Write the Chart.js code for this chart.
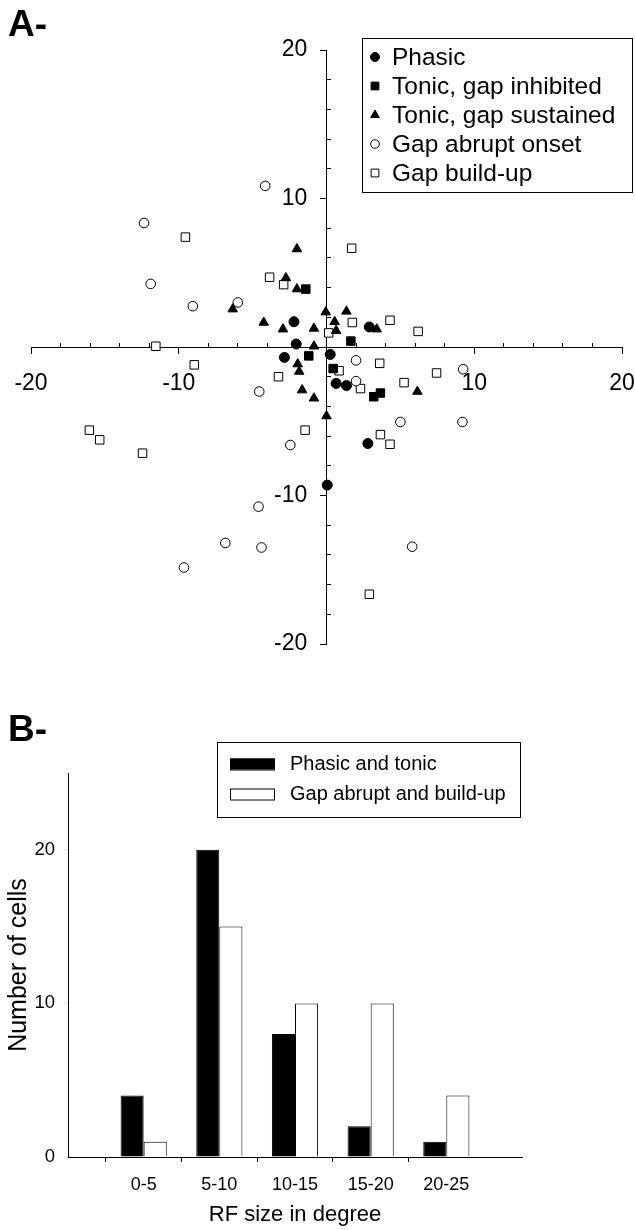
<!DOCTYPE html>
<html>
<head>
<meta charset="utf-8">
<script src="https://cdn.jsdelivr.net/npm/chart.js@4.4.1/dist/chart.umd.min.js"></script>
<style>
  html, body { margin: 0; padding: 0; background: #fff; overflow: hidden; }
  body { width: 635px; height: 1230px; position: relative; font-family: "Liberation Sans", Arial, sans-serif; }
  .panel-label { position: absolute; left: 8px; font-weight: bold; font-size: 37px; line-height: 37px; color: #000; z-index: 2; }
  #boxA { position: absolute; left: 0; top: 0; width: 635px; height: 680px; }
  #boxB { position: absolute; left: 0; top: 680px; width: 635px; height: 550px; }
</style>
</head>
<body>
<div id="boxA"><canvas id="rfMapChart"></canvas></div>
<div id="boxB"><canvas id="rfSizeChart"></canvas></div>
<div class="panel-label" style="top:5px">A-</div>
<div class="panel-label" style="top:710px">B-</div>
<script>
// Panel A: receptive field centres (deg), one list of [x, y] per cell class
const phasic = [[-2.2, 1.7], [2.9, 1.35], [-2.05, 0.2], [-2.85, -0.7], [0.25, -0.5],
  [0.65, -2.45], [1.35, -2.6], [2.8, -6.5], [0.05, -9.3]];
const tonicGapInhibited = [[-1.4, 3.9], [1.65, 0.4], [-1.2, -0.6], [0.45, -1.45],
  [3.2, -3.35], [3.65, -3.1]];
const tonicGapSustained = [[-2.0, 6.6], [-2.75, 4.65], [-2.0, 3.9], [-6.35, 2.55],
  [-4.25, 1.65], [-2.95, 1.2], [-0.85, 1.25], [-0.05, 2.35], [1.35, 2.4], [0.55, 1.7],
  [0.65, 1.1], [3.4, 1.2], [-0.85, 0.05], [-1.95, -1.15], [-1.85, -1.65], [-1.65, -2.9],
  [-0.85, -3.45], [6.15, -3.0], [0.0, -4.65]];
const gapAbruptOnset = [[-4.15, 10.85], [-12.35, 8.35], [-11.9, 4.25], [-9.05, 2.75],
  [-6.0, 3.0], [2.0, -0.9], [2.0, -2.3], [-4.55, -3.0], [9.25, -1.5], [9.2, -5.05],
  [5.0, -5.05], [-2.45, -6.6], [-4.6, -10.75], [-6.85, -13.2], [-4.4, -13.5],
  [-9.65, -14.85], [5.8, -13.45]];
const gapBuildUp = [[-9.55, 7.4], [-3.85, 4.7], [-2.9, 4.2], [1.7, 6.65], [1.75, 1.65],
  [0.15, 0.95], [4.3, 1.8], [6.2, 1.05], [-11.55, 0.05], [-8.95, -1.2], [0.85, -1.6],
  [3.6, -1.1], [7.45, -1.75], [-3.25, -2.0], [2.3, -2.8], [5.25, -2.4], [-1.45, -5.6],
  [3.65, -5.9], [4.3, -6.55], [-16.05, -5.6], [-15.35, -6.25], [-12.45, -7.15], [2.9, -16.65]];
const mapTickLabels = [-20, -10, 10, 20];

// Panel B: RF size histogram
const sizeBins = ["0-5", "5-10", "10-15", "15-20", "20-25"];
const phasicAndTonic = [4, 20, 8, 2, 1];
const gapAbruptAndBuildUp = [1, 15, 10, 10, 4];
const countTicks = [0, 10, 20];

const FONT = '"Liberation Sans", Arial, sans-serif';
Chart.defaults.font.family = FONT;
Chart.defaults.color = "#000";

const clear = "rgba(0,0,0,0)";

// --- Panel A ---
function series(label, pts, style, filled, radius) {
  return {
    label: label,
    data: pts.map(([x, y]) => ({ x: x, y: y })),
    pointStyle: style,
    pointRadius: radius,
    pointHoverRadius: radius,
    pointBackgroundColor: filled ? "#000" : "#fff",
    pointBorderColor: "#000",
    pointBorderWidth: 1,
    showLine: false,
  };
}

// centred axes should not push the plot area in
const noPadding = (s) => {
  s.paddingLeft = 0;
  s.paddingRight = 0;
  s.paddingTop = 0;
  s.paddingBottom = 0;
};

const legendBoxA = {
  id: "legendBoxA",
  afterDraw(chart) {
    const ctx = chart.ctx;
    ctx.save();
    ctx.fillStyle = "#fff";
    ctx.fillRect(362.5, 38.5, 270, 154);
    ctx.strokeStyle = "#000";
    ctx.lineWidth = 1;
    ctx.strokeRect(362.5, 38.5, 270, 154);
    ctx.font = "24.5px " + FONT;
    ctx.textBaseline = "middle";
    chart.data.datasets.forEach((ds, i) => {
      const y = 57 + i * 29;
      ctx.fillStyle = ds.pointBackgroundColor;
      ctx.strokeStyle = "#000";
      ctx.lineWidth = 1;
      Chart.helpers.drawPoint(ctx, { pointStyle: ds.pointStyle, radius: ds.pointRadius - 0.5, rotation: 0, borderWidth: 1 }, 375, y);
      ctx.fillStyle = "#000";
      ctx.fillText(ds.label, 392, y + 1);
    });
    ctx.restore();
  },
};

const axisFontA = { family: FONT, size: 23 };

new Chart(document.getElementById("rfMapChart").getContext("2d"), {
  type: "scatter",
  data: {
    datasets: [
      series("Phasic", phasic, "circle", true, 5),
      series("Tonic, gap inhibited", tonicGapInhibited, "rect", true, 6),
      series("Tonic, gap sustained", tonicGapSustained, "triangle", true, 5.5),
      series("Gap abrupt onset", gapAbruptOnset, "circle", false, 4.8),
      series("Gap build-up", gapBuildUp, "rect", false, 6),
    ],
  },
  options: {
    responsive: true,
    maintainAspectRatio: false,
    animation: false,
    events: [],
    layout: { padding: { left: 31, right: 13, top: 50, bottom: 36 } },
    plugins: { legend: { display: false }, tooltip: { enabled: false } },
    scales: {
      x: {
        type: "linear", min: -20, max: 20, position: { y: 0 },
        border: { color: "#000", width: 1 },
        grid: { drawOnChartArea: false, tickLength: 6, tickColor: (c) => (c.tick && c.tick.value === 0 ? clear : "#000") },
        ticks: { stepSize: 10, autoSkip: false, maxRotation: 0, font: axisFontA, padding: 17,
          callback: (v) => (mapTickLabels.includes(v) ? String(v) : "") },
        afterFit: noPadding,
      },
      y: {
        type: "linear", min: -20, max: 20, position: { x: 0 },
        border: { color: "#000", width: 1 },
        grid: { drawOnChartArea: false, tickLength: 6, tickColor: (c) => (c.tick && c.tick.value === 0 ? clear : "#000") },
        // trailing spaces keep the labels clear of the centred axis
        ticks: { stepSize: 10, autoSkip: false, font: axisFontA, padding: 14,
          callback: (v) => (mapTickLabels.includes(v) ? String(v) + "   " : "") },
        afterFit: noPadding,
      },
      // minor ticks every 2 deg, on the other side of the axis
      x2: {
        type: "linear", axis: "x", min: -20, max: 20, position: { y: 0 },
        border: { display: false },
        grid: { drawOnChartArea: false, tickLength: -4, tickColor: (c) => (c.tick && c.tick.value % 10 === 0 ? clear : "#000") },
        ticks: { stepSize: 2, display: false },
        afterFit: noPadding,
      },
      y2: {
        type: "linear", axis: "y", min: -20, max: 20, position: { x: 0 },
        border: { display: false },
        grid: { drawOnChartArea: false, tickLength: -4, tickColor: (c) => (c.tick && c.tick.value % 10 === 0 ? clear : "#000") },
        ticks: { stepSize: 2, display: false },
        afterFit: noPadding,
      },
    },
  },
  plugins: [legendBoxA],
});

// --- Panel B ---
const binLabels = ["", ...sizeBins, ""];

const legendBoxB = {
  id: "legendBoxB",
  afterDraw(chart) {
    const ctx = chart.ctx;
    ctx.save();
    ctx.strokeStyle = "#000";
    ctx.lineWidth = 1;
    ctx.strokeRect(217.5, 62.5, 303, 75);
    ctx.font = "20px " + FONT;
    ctx.textBaseline = "middle";
    chart.data.datasets.forEach((ds, i) => {
      const y = 84 + i * 30;
      ctx.fillStyle = ds.backgroundColor;
      ctx.fillRect(230, y - 5.5, 45, 11);
      ctx.strokeRect(230.5, y - 5, 44, 11);
      ctx.fillStyle = "#000";
      ctx.fillText(ds.label, 290, y);
    });
    ctx.restore();
  },
};

new Chart(document.getElementById("rfSizeChart").getContext("2d"), {
  type: "bar",
  data: {
    labels: binLabels,
    datasets: [
      { label: "Phasic and tonic", data: [null, ...phasicAndTonic, null],
        backgroundColor: "#000", borderColor: "#000", borderWidth: 1 },
      { label: "Gap abrupt and build-up", data: [null, ...gapAbruptAndBuildUp, null],
        backgroundColor: "#fff", borderColor: "#000", borderWidth: 1 },
    ],
  },
  options: {
    responsive: true,
    maintainAspectRatio: false,
    animation: false,
    events: [],
    layout: { padding: { left: 0, right: 113, top: 93, bottom: 0 } },
    datasets: { bar: { categoryPercentage: 0.61, barPercentage: 1.0 } },
    plugins: { legend: { display: false }, tooltip: { enabled: false } },
    scales: {
      x: {
        type: "category", offset: false,
        border: { color: "#000", width: 1 },
        grid: { drawOnChartArea: false, tickLength: 5,
          tickColor: (c) => (c.index === 0 || c.index === binLabels.length - 1 ? clear : "#000") },
        ticks: { autoSkip: false, maxRotation: 0, font: { size: 18 }, padding: 12 },
        title: { display: true, text: "RF size in degree", font: { size: 22 }, padding: { top: 2, bottom: 2 } },
        afterFit: (s) => { s.height = 73; },
      },
      y: {
        min: 0, max: 25,
        border: { color: "#000", width: 1 },
        grid: { drawOnChartArea: false, tickLength: 5 },
        ticks: { stepSize: 10, includeBounds: false, font: { size: 18.5 }, padding: 8,
          callback: (v) => (countTicks.includes(v) ? String(v) : "") },
        title: { display: true, text: "Number of cells", font: { size: 25 }, padding: { top: 4, bottom: 0 } },
        afterFit: (s) => { s.width = 68; },
      },
    },
  },
  plugins: [legendBoxB],
});
</script>
</body>
</html>
